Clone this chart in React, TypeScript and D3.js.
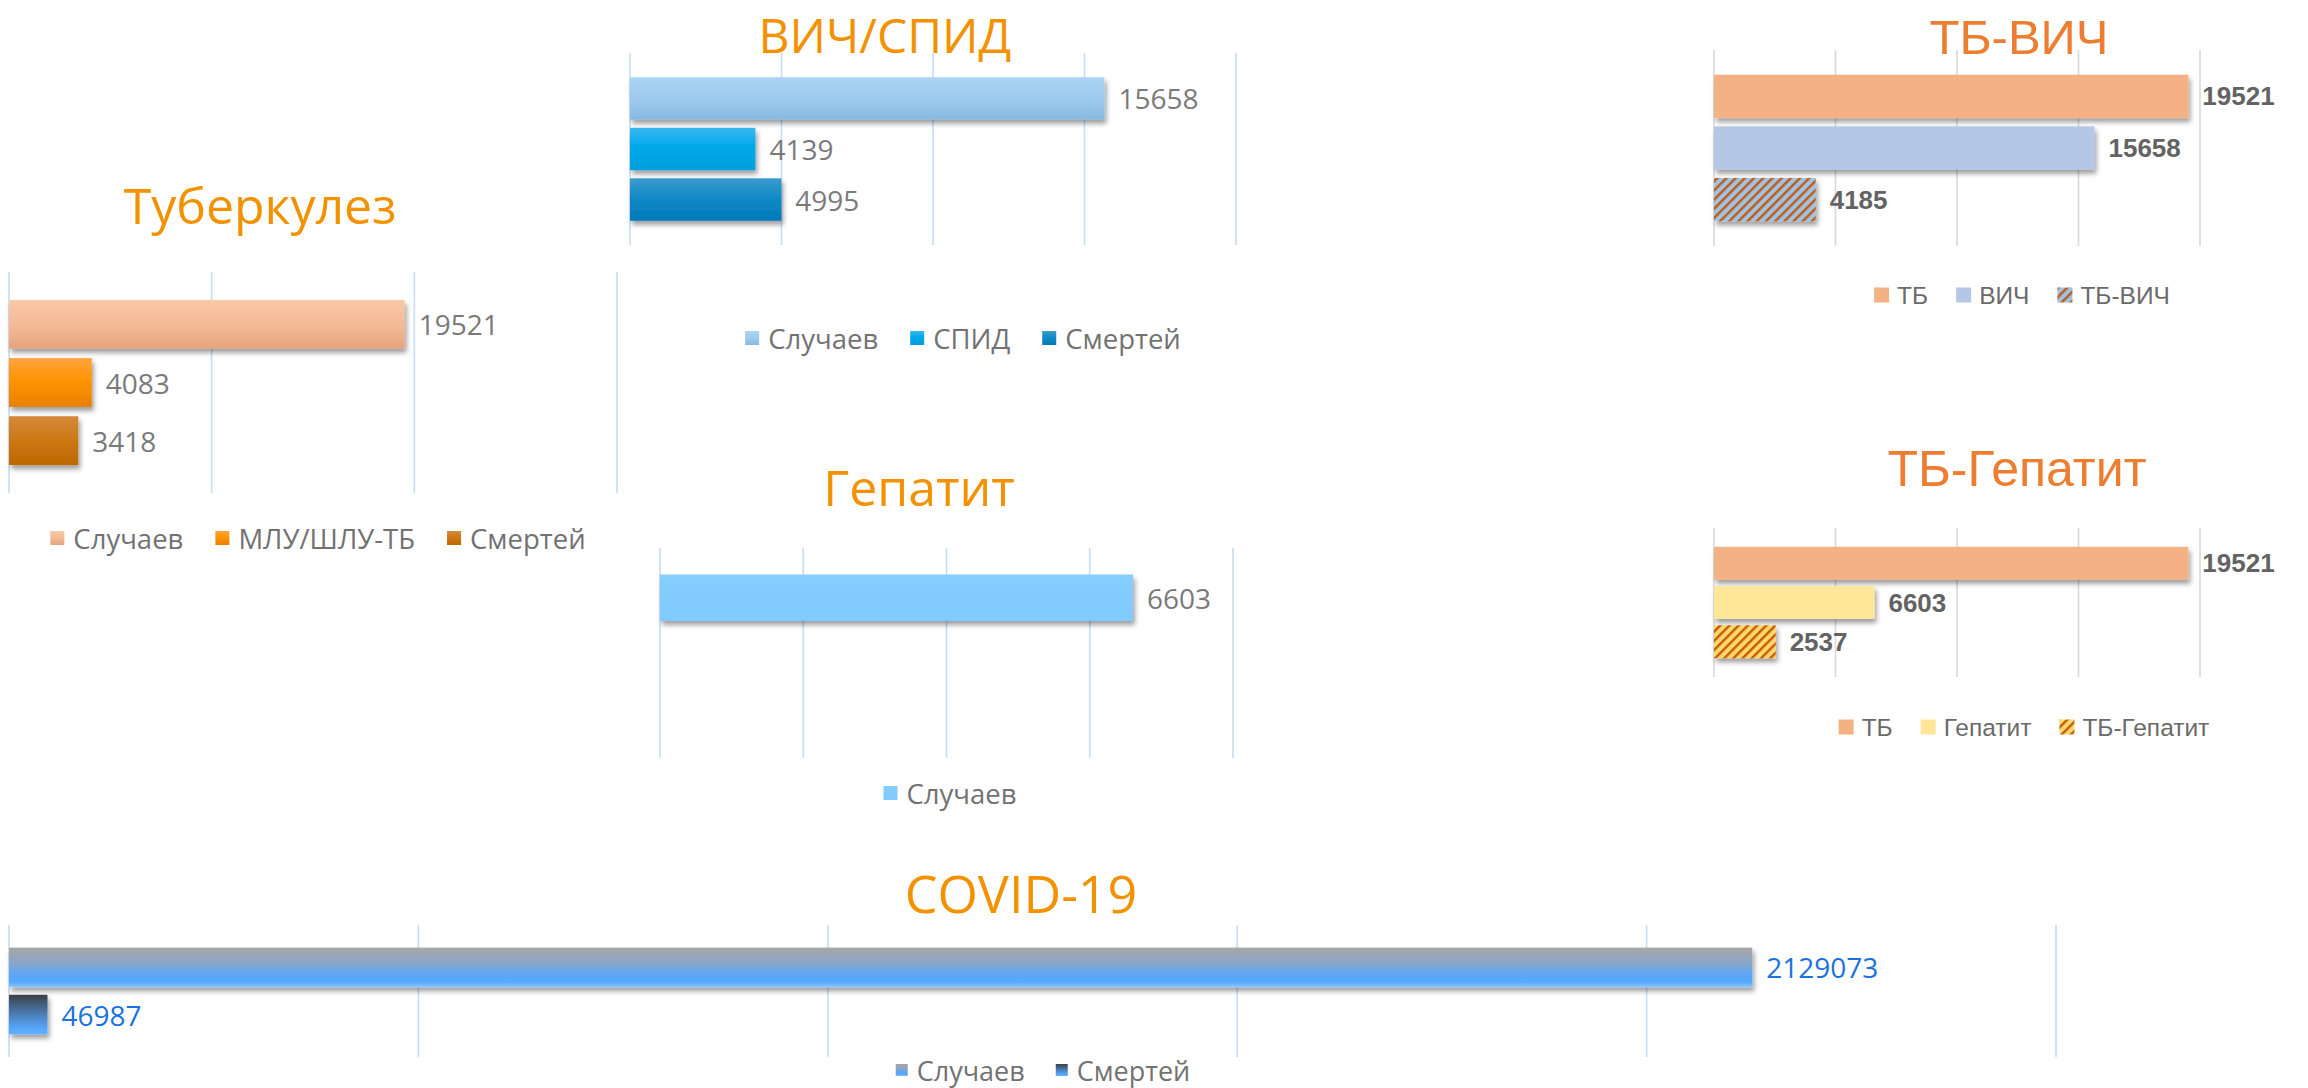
import React from 'react';
import * as d3 from 'd3';

const width = 2308;
const height = 1088;

// --- data ---
const tbSeries = ['Случаев', 'МЛУ/ШЛУ-ТБ', 'Смертей'];
const tbValues = [19521, 4083, 3418];
const tbTicks = [0, 10000, 20000, 30000];

const hivSeries = ['Случаев', 'СПИД', 'Смертей'];
const hivValues = [15658, 4139, 4995];
const hivTicks = [0, 5000, 10000, 15000, 20000];

const hepSeries = ['Случаев'];
const hepValues = [6603];
const hepTicks = [0, 2000, 4000, 6000, 8000];

const tbHivSeries = ['ТБ', 'ВИЧ', 'ТБ-ВИЧ'];
const tbHivValues = [19521, 15658, 4185];
const tbHivTicks = [0, 5000, 10000, 15000, 20000];

const tbHepSeries = ['ТБ', 'Гепатит', 'ТБ-Гепатит'];
const tbHepValues = [19521, 6603, 2537];
const tbHepTicks = [0, 5000, 10000, 15000, 20000];

const covidSeries = ['Случаев', 'Смертей'];
const covidValues = [2129073, 46987];
const covidTicks = [0, 500000, 1000000, 1500000, 2000000, 2500000];

// gradients: id -> stops (offset, colour)
const gradients = {
  tb0: [[0, '#f9c9a8'], [0.6, '#f3b692'], [1, '#e6a37f']],
  tb1: [[0, '#ffa33f'], [0.45, '#ff9400'], [1, '#e88000']],
  tb2: [[0, '#d5893c'], [0.5, '#cc7712'], [1, '#bd6800']],
  hiv0: [[0, '#acd4f3'], [0.6, '#9ac8ec'], [1, '#86b8e0']],
  hiv1: [[0, '#3bb8f0'], [0.4, '#05aaea'], [1, '#009ddb']],
  hiv2: [[0, '#3c9bcd'], [0.5, '#0e88c6'], [1, '#0079b8']],
  hep0: [[0, '#84cdff'], [1, '#7fcaff']],
  cov0: [[0, '#a6a6a6'], [0.35, '#8ea6c2'], [0.72, '#56a6fa'], [0.88, '#5aaaff'], [1, '#8cc6ff']],
  cov1: [[0, '#3b3f46'], [0.45, '#4a78ad'], [0.85, '#56a6fa'], [1, '#5fb0ff']],
};

const styles = {
  main: {
    font: 'Open Sans', title: '#f39200', titleSize: 50, grid: '#c7dcf6',
    value: '#7a7a7a', valueSize: 28, valueWeight: 400,
    legend: '#727272', legendSize: 27.5, square: 14, gap: 9, itemGap: 32,
  },
  combo: {
    font: 'Liberation Sans', title: '#ed7d31', titleSize: 50, grid: '#d9d9d9',
    value: '#636363', valueSize: 26, valueWeight: 700,
    legend: '#6a6a6a', legendSize: 24.5, square: 15, gap: 8, itemGap: 28,
  },
  covid: {
    font: 'Open Sans', title: '#f39200', titleSize: 52, grid: '#c7dcf6',
    value: '#1a72de', valueSize: 28, valueWeight: 400,
    legend: '#727272', legendSize: 27, square: 12, gap: 9, itemGap: 31,
  },
};

const charts = [
  {
    id: 'hiv', title: 'ВИЧ/СПИД', titleX: 885, titleY: 53, titleSize: 48,
    x0: 630, x1: 1236, y0: 53, y1: 245, slots: 3,
    series: hivSeries, values: hivValues, ticks: hivTicks,
    fills: ['url(#hiv0)', 'url(#hiv1)', 'url(#hiv2)'],
    legendCx: 963, legendY: 338, style: 'main',
  },
  {
    id: 'tb', title: 'Туберкулез', titleX: 260, titleY: 224,
    x0: 9, x1: 617, y0: 272, y1: 493, slots: 3,
    series: tbSeries, values: tbValues, ticks: tbTicks,
    fills: ['url(#tb0)', 'url(#tb1)', 'url(#tb2)'],
    legendCx: 318, legendY: 538, style: 'main',
  },
  {
    id: 'hep', title: 'Гепатит', titleX: 919, titleY: 506,
    x0: 660, x1: 1233, y0: 548, y1: 758, slots: 3,
    series: hepSeries, values: hepValues, ticks: hepTicks,
    fills: ['url(#hep0)'],
    legendCx: 950, legendY: 793, style: 'main',
  },
  {
    id: 'tbhiv', title: 'ТБ-ВИЧ', titleX: 2019, titleY: 54, titleSize: 49,
    x0: 1714, x1: 2200, y0: 50, y1: 246, slots: 3,
    series: tbHivSeries, values: tbHivValues, ticks: tbHivTicks,
    fills: ['#f4b183', '#b4c7e7', 'url(#hatchBlue)'],
    legendCx: 2022, legendY: 295, style: 'combo',
  },
  {
    id: 'tbhep', title: 'ТБ-Гепатит', titleX: 2017, titleY: 486,
    x0: 1714, x1: 2200, y0: 528, y1: 677, slots: 3,
    series: tbHepSeries, values: tbHepValues, ticks: tbHepTicks,
    fills: ['#f4b183', '#ffe699', 'url(#hatchYellow)'],
    legendCx: 2024, legendY: 727, style: 'combo',
  },
  {
    id: 'covid', title: 'COVID-19', titleX: 1021, titleY: 913,
    x0: 9, x1: 2056, y0: 925, y1: 1057, slots: 2,
    series: covidSeries, values: covidValues, ticks: covidTicks,
    fills: ['url(#cov0)', 'url(#cov1)'],
    legendCx: 1043, legendY: 1070, style: 'covid',
  },
];

let ctx = null;
function textWidth(text, font) {
  if (!ctx) ctx = document.createElement('canvas').getContext('2d');
  ctx.font = font;
  return ctx.measureText(text).width;
}

function Panel({ cfg }) {
  const st = styles[cfg.style];
  const x = d3.scaleLinear().domain([0, d3.max(cfg.ticks)]).range([cfg.x0, cfg.x1]);
  const y = d3.scaleBand().domain(d3.range(cfg.slots))
    .range([cfg.y0, cfg.y1]).paddingInner(0.16).paddingOuter(0.48);

  // legend layout, centred under the plot
  const lf = `${st.legendSize}px "${st.font}"`;
  const widths = cfg.series.map(s => st.square + st.gap + textWidth(s, lf));
  const total = d3.sum(widths) + st.itemGap * (widths.length - 1);
  let cursor = cfg.legendCx - total / 2;
  const items = cfg.series.map((s, i) => {
    const it = { name: s, x: cursor, fill: cfg.fills[i] };
    cursor += widths[i] + st.itemGap;
    return it;
  });

  return (
    <g fontFamily={`"${st.font}", sans-serif`}>
      <text x={cfg.titleX} y={cfg.titleY} textAnchor="middle" fontSize={cfg.titleSize || st.titleSize} fill={st.title}>
        {cfg.title}
      </text>
      {cfg.ticks.map(t => (
        <line key={t} x1={x(t)} x2={x(t)} y1={cfg.y0} y2={cfg.y1} stroke={st.grid} strokeWidth={1.6} />
      ))}
      {cfg.values.map((v, i) => (
        <rect key={i} x={x(0)} y={y(i)} width={x(v) - x(0)} height={y.bandwidth()}
          fill={cfg.fills[i]} filter="url(#shadow)" />
      ))}
      {cfg.values.map((v, i) => (
        <text key={i} x={x(v) + 14} y={y(i) + y.bandwidth() / 2} dominantBaseline="central"
          fontSize={st.valueSize} fontWeight={st.valueWeight} fill={st.value}>
          {v}
        </text>
      ))}
      {items.map(it => (
        <g key={it.name}>
          <rect x={it.x} y={cfg.legendY - st.square / 2} width={st.square} height={st.square} fill={it.fill} />
          <text x={it.x + st.square + st.gap} y={cfg.legendY} dominantBaseline="central"
            fontSize={st.legendSize} fill={st.legend}>
            {it.name}
          </text>
        </g>
      ))}
    </g>
  );
}

function Hatch({ id, bg }) {
  return (
    <pattern id={id} width={6.5} height={6.5} patternUnits="userSpaceOnUse" patternTransform="rotate(45)">
      <rect width={6.5} height={6.5} fill={bg} />
      <rect width={2.4} height={6.5} fill="#c55a11" />
    </pattern>
  );
}

export default function App() {
  return (
    <div style={{ position: 'absolute', left: 0, top: 0 }}>
      <svg width={width} height={height} style={{ display: 'block', background: '#fff' }}>
        <defs>
          {Object.entries(gradients).map(([id, stops]) => (
            <linearGradient key={id} id={id} x1="0" y1="0" x2="0" y2="1">
              {stops.map(([o, c]) => <stop key={o} offset={o} stopColor={c} />)}
            </linearGradient>
          ))}
          <Hatch id="hatchBlue" bg="#9dc3e6" />
          <Hatch id="hatchYellow" bg="#ffd966" />
          <filter id="shadow" filterUnits="userSpaceOnUse" x={0} y={0} width={width} height={height}>
            <feDropShadow dx={2} dy={4} stdDeviation={2.5} floodColor="#000" floodOpacity={0.38} />
          </filter>
        </defs>
        {charts.map(c => <Panel key={c.id} cfg={c} />)}
      </svg>
    </div>
  );
}
